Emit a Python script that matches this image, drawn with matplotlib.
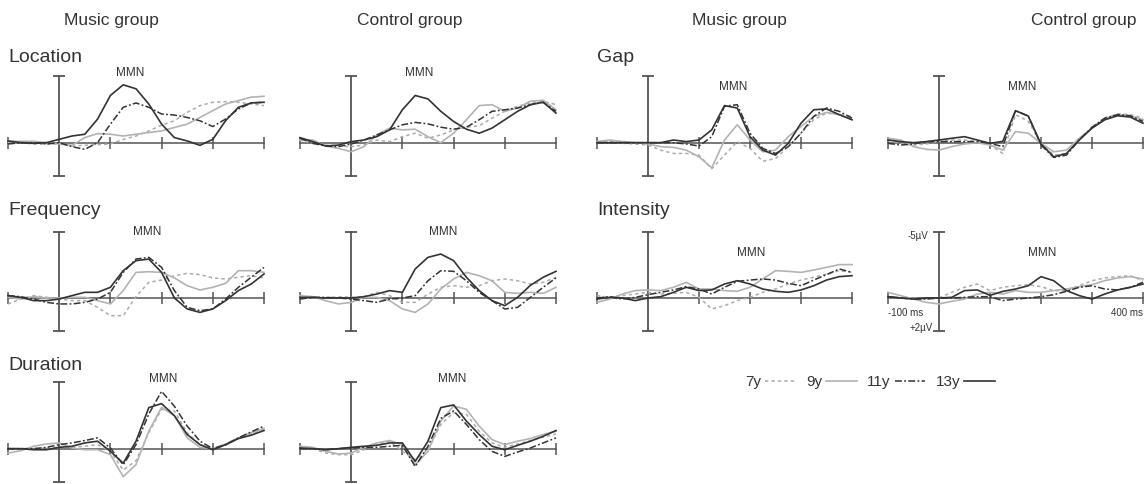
import matplotlib
matplotlib.use("Agg")
import matplotlib.pyplot as plt
from matplotlib.lines import Line2D

plt.rcParams['font.family'] = ['Liberation Sans', 'DejaVu Sans']

# ---------------- data (µV, negative = up) ----------------
times = [-100, -75, -50, -25, 0, 25, 50, 75, 100, 125, 150, 175, 200,
         225, 250, 275, 300, 325, 350, 375, 400]
groups = ["7y", "9y", "11y", "13y"]
col_titles = ["Music group", "Control group", "Music group", "Control group"]
row_titles = ["Location", "Frequency", "Duration", "Gap", "Intensity"]

loc_music_7y = [0, 0, 0.1, 0.1, 0.1, 0.25, 0.2, 0.15, 0.1, -0.25, -0.5, -0.88, -1.31, -1.64, -2.27, -2.78, -3.03, -3.08, -3.03, -2.9, -2.78]
loc_music_9y = [-0.1, -0.1, -0.1, 0, 0.1, 0.2, -0.38, -0.68, -0.63, -0.5, -0.63, -0.76, -0.88, -1.14, -1.39, -1.89, -2.4, -2.9, -3.16, -3.41, -3.48]
loc_music_11y = [0.1, 0, 0, 0.1, 0, 0.3, 0.5, 0, -1.39, -2.65, -2.98, -2.65, -2.15, -2.07, -1.89, -1.64, -1.21, -1.77, -2.53, -2.98, -3.03]
loc_music_13y = [-0.13, 0, 0.05, 0, -0.25, -0.5, -0.63, -1.77, -3.54, -4.34, -4.04, -2.9, -1.39, -0.38, -0.13, 0.2, -0.25, -1.65, -2.65, -2.98, -3.03]

loc_control_7y = [-0.2, 0.05, 0.18, 0.25, 0.3, 0.18, -0.2, -0.08, -0.45, -0.71, -0.33, -0.58, -0.96, -1.16, -1.26, -1.84, -2.35, -2.73, -2.98, -3.11, -2.85]
loc_control_9y = [-0.2, -0.2, 0.25, 0.43, 0.68, 0.3, -0.58, -1.09, -0.96, -1.01, -0.45, 0, -0.71, -1.72, -2.78, -2.85, -2.35, -2.6, -3.11, -3.18, -2.47]
loc_control_11y = [-0.33, 0.05, 0.25, 0.3, 0.1, -0.2, -0.58, -0.96, -1.34, -1.52, -1.41, -1.16, -1.01, -1.16, -1.72, -2.35, -2.47, -2.6, -2.85, -3.03, -2.35]
loc_control_13y = [-0.38, -0.08, 0.25, 0.18, -0.08, -0.2, -0.45, -0.96, -2.47, -3.54, -3.28, -2.35, -1.59, -1.01, -0.71, -1.09, -1.72, -2.35, -2.85, -3.03, -2.22]

gap_music_7y = [-0.08, -0.08, 0.05, 0.1, 0.18, 0.56, 0.81, 0.81, 0.93, 1.96, 0.93, -0.08, 0.43, 1.39, 1.19, 0.3, -0.71, -1.72, -2.22, -2.1, -1.97]
gap_music_9y = [-0.08, -0.2, -0.08, 0, 0.1, 0.3, 0.35, 0.56, 1.06, 1.89, -0.2, -1.34, -0.2, 0.68, 0.56, -0.45, -1.21, -1.97, -2.27, -2.1, -1.72]
gap_music_11y = [0, 0, 0, 0, 0, 0, 0, 0.1, 0.25, -0.45, -2.73, -2.85, -0.71, 0.43, 0.81, 0.3, -0.71, -1.97, -2.6, -2.35, -1.84]
gap_music_13y = [0, 0, 0, 0, 0, 0, -0.2, -0.08, -0.2, -0.96, -2.78, -2.6, -0.45, 0.56, 0.93, 0.05, -1.46, -2.47, -2.53, -2.1, -1.72]

gap_control_7y = [-0.2, 0.05, 0.18, 0.1, -0.08, -0.2, -0.2, -0.08, 0.18, 0.81, -2.1, -1.6, 0.05, 0.93, 0.81, -0.2, -1.16, -1.84, -2.17, -2.1, -1.84]
gap_control_9y = [-0.33, -0.2, 0.3, 0.5, 0.56, 0.3, 0.1, 0, 0.18, 0.56, -0.83, -0.71, 0.05, 0.68, 0.56, -0.33, -1.09, -1.72, -2.1, -2.02, -1.72]
gap_control_11y = [0.05, 0.18, 0.1, -0.08, -0.08, -0.08, -0.08, -0.08, 0.05, 0.3, -2.4, -2.0, 0.18, 1.11, 0.93, -0.2, -1.16, -1.84, -2.1, -2.02, -1.59]
gap_control_13y = [-0.2, -0.08, 0, -0.08, -0.2, -0.33, -0.45, -0.2, 0.05, -0.1, -2.4, -2.0, 0.1, 1.06, 0.81, -0.2, -1.09, -1.72, -2.02, -1.92, -1.46]

freq_music_7y = [0.45, 0.08, -0.18, -0.05, 0.08, 0.2, 0.2, 0.71, 1.34, 1.34, -0.1, -1.19, -1.36, -1.69, -1.87, -1.77, -1.52, -1.44, -1.57, -1.69, -1.52]
freq_music_9y = [-0.05, 0.08, -0.1, 0, 0, -0.05, -0.05, 0.2, 0.45, -0.56, -1.94, -1.99, -1.94, -1.52, -0.93, -0.61, -0.81, -1.11, -2.07, -2.07, -1.94]
freq_music_11y = [-0.18, -0.1, 0.08, 0.33, 0.45, 0.45, 0.33, 0.08, -0.43, -1.94, -2.95, -3.08, -2.32, -0.56, 0.71, 0.96, 0.83, 0.08, -0.81, -1.57, -2.32]
freq_music_13y = [-0.18, -0.05, 0.2, 0.2, 0.08, -0.18, -0.43, -0.43, -0.81, -2.07, -2.83, -2.95, -1.94, 0, 0.83, 1.09, 0.83, 0.2, -0.56, -1.06, -1.82]

freq_control_7y = [0, 0, 0, -0.1, -0.05, -0.1, -0.43, -0.18, 0.33, 0.33, -0.3, -0.81, -0.93, -0.81, -0.93, -1.31, -1.44, -1.31, -1.06, -1.18, -1.57]
freq_control_9y = [-0.18, -0.1, 0.2, 0.45, 0.33, -0.05, -0.05, 0.2, 0.83, 1.09, 0.45, -0.68, -1.44, -1.94, -1.69, -1.31, -0.43, -0.35, -0.43, -0.35, -0.81]
freq_control_11y = [0.08, -0.05, -0.05, 0, 0.08, 0.2, 0.33, 0.08, 0, -0.18, -1.31, -2.07, -2.02, -1.31, -0.43, 0.2, 0.83, 0.71, -0.05, -0.81, -1.52]
freq_control_13y = [-0.05, -0.05, 0, 0, 0, -0.1, -0.3, -0.56, -0.43, -2.2, -3.08, -3.33, -2.83, -1.57, -0.56, 0.2, 0.58, -0.05, -0.96, -1.57, -2.02]

int_music_7y = [-0.18, -0.05, -0.18, -0.3, -0.43, -0.3, -0.35, -0.43, -0.05, 0.83, 0.58, 0.2, -0.05, -0.43, -0.68, -1.06, -1.36, -1.57, -1.82, -2.07, -1.94]
int_music_9y = [0.33, 0.08, -0.3, -0.56, -0.61, -0.56, -0.81, -1.19, -0.68, -0.68, -0.56, -0.51, -0.81, -1.44, -2.07, -2.02, -1.94, -2.12, -2.32, -2.53, -2.53]
int_music_11y = [0, -0.1, 0.08, -0.05, -0.25, -0.43, -0.61, -0.86, -0.68, -0.3, -0.81, -1.26, -1.36, -1.44, -1.36, -1.11, -0.93, -1.36, -1.77, -2.2, -1.94]
int_music_13y = [0.08, -0.05, 0, 0.2, 0, -0.1, -0.43, -0.81, -0.56, -0.61, -1.06, -1.31, -1.06, -0.68, -0.51, -0.43, -0.61, -0.93, -1.36, -1.62, -1.69]

int_control_7y = [-0.1, -0.05, 0, 0.08, 0, -0.43, -0.81, -1.06, -0.56, -0.81, -0.93, -1.01, -0.86, -0.56, -0.56, -0.93, -1.31, -1.52, -1.62, -1.69, -1.31]
int_control_9y = [-0.43, -0.18, 0.08, 0.33, 0.45, 0.25, 0.08, -0.3, -0.43, -0.3, -0.56, -0.43, -0.43, -0.56, -0.68, -0.86, -1.01, -1.31, -1.52, -1.62, -1.44]
int_control_11y = [-0.1, 0, 0.08, 0.08, 0, 0, -0.05, -0.1, -0.1, 0.2, 0.08, 0, -0.1, -0.25, -0.51, -0.81, -0.93, -0.68, -0.61, -0.81, -1.19]
int_control_13y = [-0.1, 0, 0.08, 0, 0, -0.05, -0.56, -0.61, -0.2, -0.5, -0.68, -0.93, -1.62, -1.31, -0.56, -0.18, 0.08, -0.3, -0.61, -0.81, -1.06]

dur_music_7y = [0, 0, 0, -0.05, -0.1, -0.1, -0.18, -0.3, 0.2, 1.6, 0.9, -1.2, -2.95, -2.83, -1.19, -0.3, 0, -0.25, -0.76, -1.11, -1.44]
dur_music_9y = [0.33, 0.15, -0.18, -0.35, -0.43, -0.05, 0.08, 0.08, 0.45, 2.1, 1.2, -1.31, -3.1, -2.47, -0.81, -0.1, 0, -0.35, -0.81, -1.19, -1.52]
dur_music_11y = [0, 0, 0, -0.1, -0.3, -0.43, -0.61, -0.81, -0.05, 1.21, -0.3, -2.6, -4.3, -3.18, -1.69, -0.56, 0, -0.3, -0.81, -1.26, -1.69]
dur_music_13y = [0, 0, 0.08, 0.08, -0.1, -0.18, -0.43, -0.56, 0.2, 1.09, -0.56, -3.08, -3.38, -2.47, -1.06, -0.3, 0.08, -0.3, -0.76, -1.01, -1.36]

dur_control_7y = [-0.1, 0, 0.33, 0.45, 0.45, 0.08, -0.3, -0.56, 0.2, 0.83, 0.08, -1.82, -2.7, -2.58, -1.31, -0.43, -0.1, -0.35, -0.61, -0.86, -1.11]
dur_control_9y = [-0.18, -0.1, 0.2, 0.4, 0.33, -0.1, -0.43, -0.61, -0.3, 1.21, 0.2, -2.07, -3.2, -2.95, -1.69, -0.68, -0.3, -0.56, -0.76, -1.06, -1.31]
dur_control_11y = [0, 0, 0.08, 0, -0.05, -0.1, -0.1, -0.18, -0.25, 1.34, -0.18, -2.27, -2.83, -1.82, -0.68, 0.2, 0.58, 0.25, -0.05, -0.43, -0.81]
dur_control_13y = [-0.05, 0, 0.08, 0, -0.1, -0.18, -0.25, -0.43, -0.43, 0.96, -0.56, -3.08, -3.28, -2.07, -1.06, -0.18, 0.08, -0.25, -0.56, -0.93, -1.36]

# MMN label anchor (ms, µV) per panel
mmn_pos = {
    "loc_music": (138, -5.2), "loc_control": (132, -5.2),
    "gap_music": (167, -4.2), "gap_control": (163, -4.2),
    "freq_music": (171, -5.0), "freq_control": (179, -5.0),
    "int_music": (202, -3.4), "int_control": (202, -3.4),
    "dur_music": (203, -5.2), "dur_control": (197, -5.2),
}

panels = {
    "loc_music": [loc_music_7y, loc_music_9y, loc_music_11y, loc_music_13y],
    "loc_control": [loc_control_7y, loc_control_9y, loc_control_11y, loc_control_13y],
    "gap_music": [gap_music_7y, gap_music_9y, gap_music_11y, gap_music_13y],
    "gap_control": [gap_control_7y, gap_control_9y, gap_control_11y, gap_control_13y],
    "freq_music": [freq_music_7y, freq_music_9y, freq_music_11y, freq_music_13y],
    "freq_control": [freq_control_7y, freq_control_9y, freq_control_11y, freq_control_13y],
    "int_music": [int_music_7y, int_music_9y, int_music_11y, int_music_13y],
    "int_control": [int_control_7y, int_control_9y, int_control_11y, int_control_13y],
    "dur_music": [dur_music_7y, dur_music_9y, dur_music_11y, dur_music_13y],
    "dur_control": [dur_control_7y, dur_control_9y, dur_control_11y, dur_control_13y],
}

# ---------------- layout / style ----------------
W, H = 1146, 484
COLS = [(8, 264), (300, 556), (597, 852), (888, 1143)]
ROWS = [(76, 176), (232, 331), (382, 482)]
grid = {
    "loc_music": (0, 0), "loc_control": (0, 1), "gap_music": (0, 2), "gap_control": (0, 3),
    "freq_music": (1, 0), "freq_control": (1, 1), "int_music": (1, 2), "int_control": (1, 3),
    "dur_music": (2, 0), "dur_control": (2, 1),
}
AX_C = "#555555"
TXT_C = "#333333"
styles = [
    dict(color="#ababab", lw=1.1, ls=(0, (2.2, 2.0))),
    dict(color="#b3b3b3", lw=1.2, ls="-"),
    dict(color="#333333", lw=1.1, ls=(0, (4.5, 1.5, 1.2, 1.5))),
    dict(color="#333333", lw=1.2, ls="-"),
]

fig = plt.figure(figsize=(W / 100, H / 100), dpi=100)

for name, series in panels.items():
    r, c = grid[name]
    x0, x1 = COLS[c]
    y0, y1 = ROWS[r]
    ax = fig.add_axes([x0 / W, 1 - y1 / H, (x1 - x0) / W, (y1 - y0) / H])
    ax.set_xlim(-100, 400)
    ax.set_ylim(2.5, -5)
    ax.axis("off")
    # baseline with ticks
    ax.plot([-100, 400], [0, 0], color=AX_C, lw=1.1, clip_on=False, zorder=1)
    ax.vlines([-100, 100, 200, 300, 400], -0.45, 0.45, color=AX_C, lw=1.1, clip_on=False, zorder=1)
    # vertical amplitude bar
    ax.plot([0, 0], [-5, 2.5], color=AX_C, lw=1.3, clip_on=False, zorder=1)
    ax.hlines([-5, 2.5], -12, 12, color=AX_C, lw=1.3, clip_on=False, zorder=1)
    for vals, st in zip(series, styles):
        ax.plot(times, vals, clip_on=False, zorder=2, solid_joinstyle="round", **st)
    mx, my = mmn_pos[name]
    ax.text(mx, my, "MMN", ha="center", va="center", fontsize=8.5, color=TXT_C)
    if name == "int_control":
        ax.text(-20, -4.7, "-5µV", ha="right", va="center", fontsize=7, color=TXT_C)
        ax.text(-12, 2.3, "+2µV", ha="right", va="center", fontsize=7, color=TXT_C)
        ax.text(-100, 1.1, "-100 ms", ha="left", va="center", fontsize=7, color=TXT_C)
        ax.text(400, 1.1, "400 ms", ha="right", va="center", fontsize=7, color=TXT_C)

# column headers
for title, cx in zip(col_titles, [111, 410, 739, 1084]):
    fig.text(cx / W, 1 - 20 / H, title, ha="center", va="center", fontsize=12.5, color=TXT_C)

# row titles
for title, (px, py) in zip(row_titles, [(8, 58), (8, 211), (8, 365), (597, 58), (597, 211)]):
    fig.text(px / W, 1 - py / H, title, ha="left", va="center", fontsize=14, color=TXT_C)

# legend
handles = [Line2D([0], [0], **st) for st in styles]
leg = fig.legend(handles, groups, loc="center", bbox_to_anchor=(870 / W, 1 - 382 / H),
                 ncol=4, frameon=False, markerfirst=False, handlelength=2.0,
                 handletextpad=0.25, columnspacing=0.7, fontsize=11)
for t in leg.get_texts():
    t.set_color(TXT_C)

fig.savefig("out.png", dpi=100)
